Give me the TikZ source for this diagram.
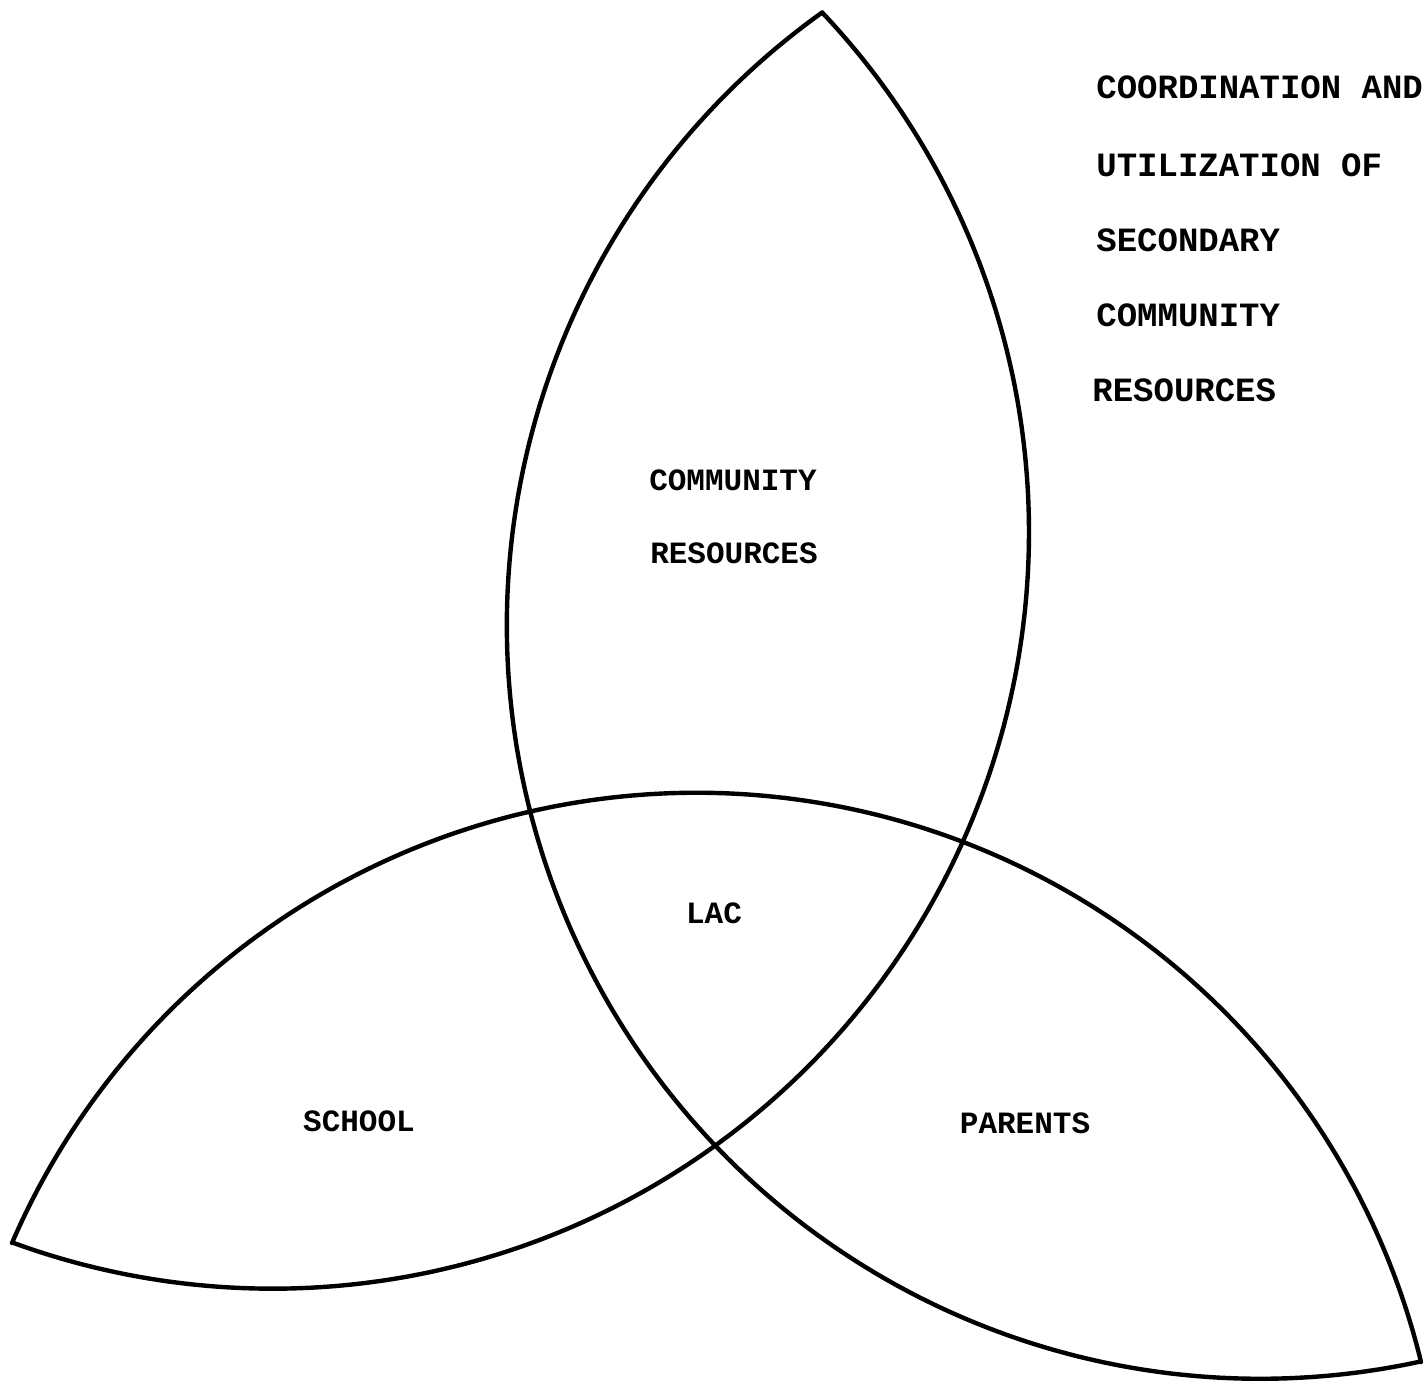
\documentclass[tikz,border=0pt]{standalone}
\usepackage{fontspec}
\newfontfamily\tw{Liberation Mono}
\begin{document}
\begin{tikzpicture}[x=0.5pt,y=-0.5pt,
  outline/.style={line width=2.2pt,line join=round,draw=black},
  label/.style={font=\tw\bfseries\fontsize{15.5}{18}\selectfont,inner sep=0pt,text=black},
  sidelabel/.style={font=\tw\bfseries\fontsize{17}{20}\selectfont,inner sep=0pt,text=black,anchor=west}]
\useasboundingbox (0,0) rectangle (1423,1384);
% three interlaced circular arcs (tips at top, left and right)
\draw[outline]
  plot[domain=180:77.69,samples=160] ({1260.2+753.4*cos(\x)},{625.4+753.4*sin(\x)})
  -- plot[domain=-13.68:-156.67,samples=240] ({696.6+745.6*cos(\x)},{1538.3+745.6*sin(\x)})
  -- plot[domain=110.13:-43.43,samples=240] ({272.5+756.5*cos(\x)},{532.2+756.5*sin(\x)})
  -- plot[domain=234.46:180,samples=100] ({1260.2+753.4*cos(\x)},{625.4+753.4*sin(\x)});
% labels
\node[label] (comm) at (733,480) {COMMUNITY};
\node[label] (res) at (734,553) {RESOURCES};
\node[label] (lac) at (714,913) {LAC};
\node[label] (school) at (359,1121) {SCHOOL};
\node[label] (parents) at (1025,1123) {PARENTS};
\node[sidelabel] (c1) at (1096,87) {COORDINATION AND};
\node[sidelabel] (c2) at (1096,165) {UTILIZATION OF};
\node[sidelabel] (c3) at (1096,240) {SECONDARY};
\node[sidelabel] (c4) at (1096,315) {COMMUNITY};
\node[sidelabel] (c5) at (1092,390) {RESOURCES};
\end{tikzpicture}
\end{document}
